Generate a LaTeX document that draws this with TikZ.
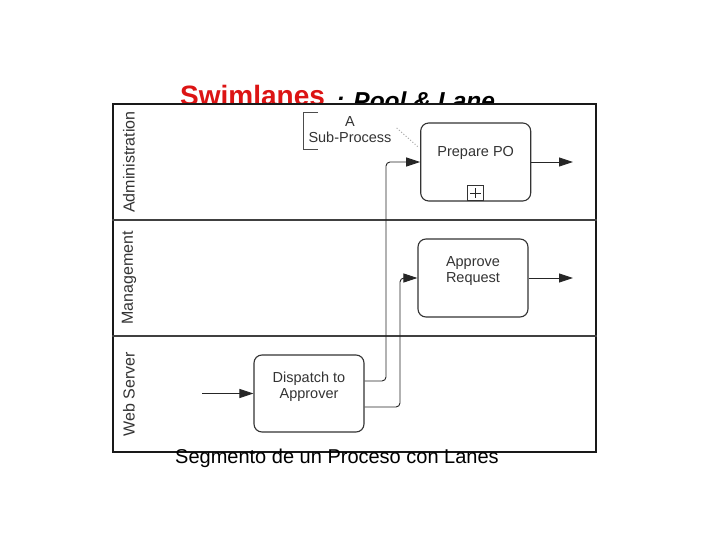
\documentclass[tikz,border=0pt]{standalone}
\usepackage{fontspec}
\setmainfont{Liberation Sans}
\usetikzlibrary{arrows.meta}
\definecolor{titlered}{RGB}{220,20,20}
\begin{document}
\begin{tikzpicture}[x=1pt,y=-1pt,
  task/.style={draw=black!80, line width=1.1pt, rounded corners=8pt, fill=white, inner sep=0pt},
  tasktext/.style={align=center, font=\fontsize{14.5}{16}\selectfont, text=black!80, inner sep=0pt},
  flow/.style={draw=black!85, line width=0.9pt, rounded corners=4pt, -{Triangle[length=14pt,width=9pt]}},
  lanelabel/.style={rotate=90, font=\fontsize{16}{18}\selectfont, text=black!80, inner sep=0pt},
  laneline/.style={draw=black!75, line width=1.5pt}]
\useasboundingbox (0,0) rectangle (720,540);
% title (lower part hidden by the pool)
\node[anchor=base west, inner sep=0pt, text=titlered, font=\fontsize{28}{30}\selectfont\bfseries] (t1) at (180,105.5) {Swimlanes};
\node[anchor=base west, inner sep=0pt, font=\fontsize{24.5}{28}\selectfont\bfseries\itshape] (t2) at (336,109.5) {: Pool \& Lane};
% pool
\node[draw=black!90, line width=1.8pt, fill=white, minimum width=483pt, minimum height=348pt, inner sep=0pt] (pool) at (354.5,278) {};
\coordinate (s1) at (0,220);
\coordinate (s2) at (0,336);
\draw[laneline] (pool.west |- s1) -- (pool.east |- s1);
\draw[laneline] (pool.west |- s2) -- (pool.east |- s2);
% lane labels
\node[lanelabel] (l1) at (129,162) {Administration};
\node[lanelabel] (l2) at (129,278) {Management};
\node[lanelabel] (l3) at (129,394) {Web Server};
% tasks
\node[task, minimum width=110pt, minimum height=78pt] (prep) at (475.7,162) {};
\node[task, minimum width=110pt, minimum height=78pt] (appr) at (473,278) {};
\node[task, minimum width=110pt, minimum height=77pt] (disp) at (309,393.5) {};
\node[tasktext] (prept) at ([yshift=9pt]prep.center) {Prepare PO};
\node[tasktext] (apprt) at ([yshift=7pt]appr.center) {Approve\\Request};
\node[tasktext] (dispt) at ([yshift=6.5pt]disp.center) {Dispatch to\\Approver};
% sub-process marker
\node[draw=black!80, line width=0.8pt, minimum width=16pt, minimum height=15pt, inner sep=0pt, anchor=south, fill=white] (plus) at ([yshift=0.5pt]prep.south) {};
\draw[black!85, line width=0.8pt] ([yshift=-3pt]plus.north) -- ([yshift=3pt]plus.south);
\draw[black!85, line width=0.8pt] ([xshift=3pt]plus.west) -- ([xshift=-3pt]plus.east);
% annotation
\node[font=\fontsize{14.5}{16}\selectfont, text=black!80, align=center, inner sep=0pt] (ann) at (350,130) {A\\Sub-Process};
\draw[black!70, line width=1pt] (318,113) -- (303,113) -- (303,150) -- (318,150);
\draw[black!35, line width=1pt, dotted] ([xshift=5pt,yshift=2pt]ann.east) -- ([xshift=-2pt,yshift=15pt]prep.west);
% flows
\coordinate (c1) at (386,0);
\coordinate (c2) at (400,0);
\coordinate (start) at (202,0);
\coordinate (o1) at (573,0);
\draw[flow] (start |- disp.west) -- (disp.west);
\draw[flow] ([yshift=12.5pt]disp.east) -| (c1 |- prep.west) -- (prep.west);
\draw[flow] ([yshift=-13.5pt]disp.east) -| (c2 |- appr.west) -- (appr.west);
\draw[flow] (prep.east) -- (o1 |- prep.east);
\draw[flow] (appr.east) -- (o1 |- appr.east);
% caption
\node[anchor=base west, inner sep=0pt, font=\fontsize{20}{22}\selectfont] (cap) at (175,463) {Segmento de un Proceso con Lanes};
\end{tikzpicture}
\end{document}
